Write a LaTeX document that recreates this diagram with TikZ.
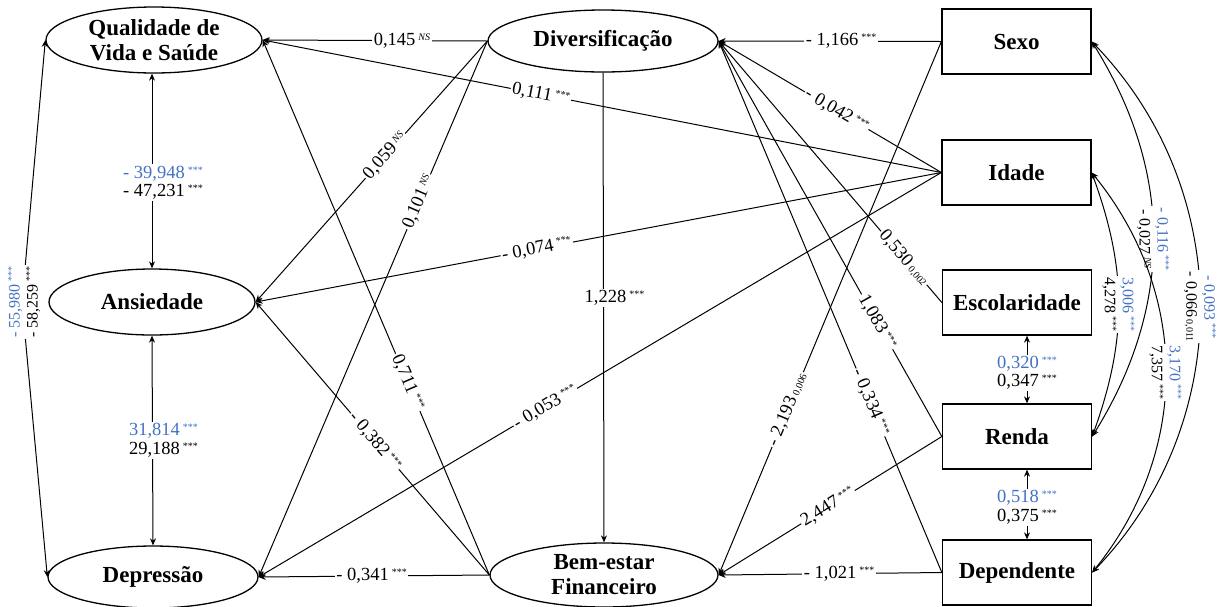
\documentclass[tikz,border=0pt]{standalone}
\usepackage{fontspec}
\setmainfont{Liberation Serif}
\usetikzlibrary{shapes.geometric,arrows.meta}
\definecolor{lblue}{RGB}{68,114,196}
\newcommand{\sss}{\,\raisebox{5pt}{\fontsize{10}{10}\selectfont ***}}
\newcommand{\nsup}{\,\raisebox{5pt}{\fontsize{10}{10}\selectfont\itshape NS}}
\newcommand{\psub}[1]{\,{\fontsize{10}{10}\selectfont #1}}
\begin{document}
\begin{tikzpicture}[x=1pt,y=1pt,
  ell/.style={ellipse, draw, line width=1.3pt, inner sep=0pt, fill=white,
    font=\fontsize{23}{25}\selectfont\bfseries, align=center},
  box/.style={rectangle, draw, line width=1.3pt, fill=white, minimum width=149pt,
    minimum height=65pt, font=\fontsize{23}{25}\selectfont\bfseries},
  arr/.style={line width=1pt, -{Stealth[length=7pt,width=6pt]}},
  dbl/.style={line width=1pt, {Stealth[length=7pt,width=6pt]}-{Stealth[length=7pt,width=6pt]}},
  lbl/.style={fill=white, inner sep=1.5pt, font=\fontsize{18.5}{18.5}\selectfont},
  lbltwo/.style={lbl, align=center},
  clbl/.style={fill=white, inner sep=1.5pt, font=\fontsize{16}{18}\selectfont, align=center}]
\useasboundingbox[fill=white] (0,0) rectangle (1225,-606);

% nodes
\node[ell, minimum width=216pt, minimum height=66pt] (Q) at (154,-40) {Qualidade de\\Vida e Saúde};
\node[ell, minimum width=206pt, minimum height=66pt] (A) at (152,-302) {Ansiedade};
\node[ell, minimum width=210pt, minimum height=62pt] (D) at (153,-577) {Depressão};
\node[ell, minimum width=230pt, minimum height=62pt] (V) at (603,-41) {Diversificação};
\node[ell, minimum width=228pt, minimum height=64pt] (B) at (604,-575) {Bem-estar\\Financeiro};
\node[box] (S) at (1016.5,-41.5) {Sexo};
\node[box] (I) at (1016.5,-172.5) {Idade};
\node[box] (E) at (1017,-302.5) {Escolaridade};
\node[box] (R) at (1017,-436.5) {Renda};
\node[box] (P) at (1017,-572.5) {Dependente};

% regressions
\draw[arr] (V.west) -- node[lbl,pos=0.38] (l1) {0,145\nsup} (Q.east);
\draw[arr] (I.west) -- node[lbl,pos=0.59,sloped] (l2) {0,111\sss} (Q.east);
\draw[arr] (I.west) -- node[lbl,pos=0.59,sloped] (l3) {- 0,074\sss} (A.east);
\draw[arr] (I.west) -- node[lbl,pos=0.58,sloped] (l4) {- 0,053\sss} (D.east);
\draw[arr] (V.west) -- node[lbl,pos=0.44,sloped] (l5) {0,059\nsup} (A.east);
\draw[arr] (V.west) -- node[lbl,pos=0.30,sloped] (l6) {0,101\nsup} (D.east);
\draw[arr] (B.west) -- node[lbl,pos=0.36,sloped] (l7) {0,711\sss} (Q.east);
\draw[arr] (B.west) -- node[lbl,pos=0.49,sloped] (l8) {- 0,382\sss} (A.east);
\draw[arr] (B.west) -- node[lbl,pos=0.51] (l9) {- 0,341\sss} (D.east);
\draw[arr] (V.south) -- node[lbl,pos=0.48,xshift=11pt] (l10) {1,228\sss} (B.north);
\draw[arr] (S.west) -- node[lbl,pos=0.45] (l11) {- 1,166\sss} (V.east);
\draw[arr] (I.west) -- node[lbl,pos=0.47,sloped] (l12) {- 0,042\sss} (V.east);
\draw[arr] (E.west) -- node[lbl,pos=0.17,sloped] (l13) {0,530\psub{0,002}} (V.east);
\draw[arr] (R.west) -- node[lbl,pos=0.29,sloped] (l14) {1,083\sss} (V.east);
\draw[arr] (P.west) -- node[lbl,pos=0.32,sloped] (l15) {- 0,334\sss} (V.east);
\draw[arr] (S.west) -- node[lbl,pos=0.69,sloped] (l16) {- 2,193\psub{0,006}} (B.east);
\draw[arr] (R.west) -- node[lbl,pos=0.51,sloped] (l17) {2,447\sss} (B.east);
\draw[arr] (P.west) -- node[lbl,pos=0.46] (l18) {- 1,021\sss} (B.east);

% covariances
\draw[dbl] ([xshift=-2pt]Q.south) -- node[lbltwo,pos=0.56,xshift=11pt] (c1)
  {\textcolor{lblue}{- 39,948\sss}\\- 47,231\sss} (A.north);
\draw[dbl] (A.south) -- node[lbltwo,pos=0.5,xshift=11pt] (c2)
  {\textcolor{lblue}{31,814\sss}\\29,188\sss} (D.north);
\draw[dbl] ([xshift=10pt]E.south) -- node[lbltwo,pos=0.55] (c3)
  {\textcolor{lblue}{0,320\sss}\\0,347\sss} ([xshift=10pt]R.north);
\draw[dbl] ([xshift=10pt]R.south) -- node[lbltwo,pos=0.54] (c4)
  {\textcolor{lblue}{0,518\sss}\\0,375\sss} ([xshift=10pt]P.north);

\coordinate (apex) at (22,-302);
\draw[dbl] (Q.west) -- (apex) -- (D.west);
\node[clbl, rotate=90] (c5) at (24,-302) {\textcolor{lblue}{- 55,980\sss}\\- 58,259\sss};

\draw[dbl] (S.east) to[bend left=32] node[clbl,pos=0.5,rotate=-90] (c6)
  {\textcolor{lblue}{- 0,116\sss}\\- 0,027\nsup} (R.east);
\draw[dbl] (S.east) to[bend left=44] node[clbl,pos=0.5,rotate=-90] (c7)
  {\textcolor{lblue}{- 0,093\sss}\\- 0,066\psub{0,011}} (P.east);
\draw[dbl] (I.east) to[bend left=20] node[clbl,pos=0.5,rotate=-90] (c8)
  {\textcolor{lblue}{3,006\sss}\\4,278\sss} (R.east);
\draw[dbl] (I.east) to[bend left=39] node[clbl,pos=0.5,rotate=-90] (c9)
  {\textcolor{lblue}{3,170\sss}\\7,357\sss} (P.east);
\end{tikzpicture}
\end{document}
